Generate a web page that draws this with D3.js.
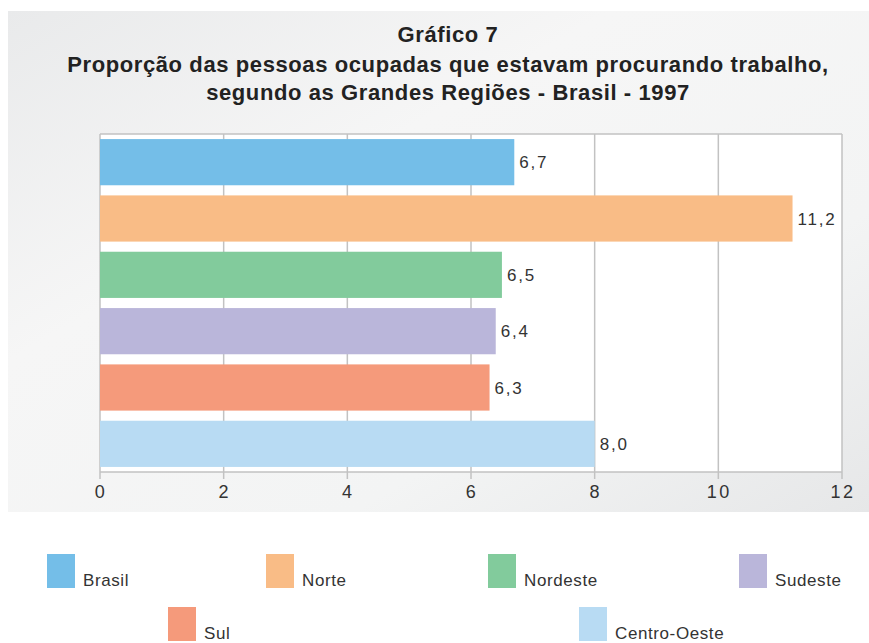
<!DOCTYPE html>
<html>
<head>
<meta charset="utf-8">
<script src="https://cdn.jsdelivr.net/npm/d3@7"></script>
<style>
  body { margin: 0; background: #fff; }
  text { font-family: "Liberation Sans", Arial, sans-serif; }
</style>
</head>
<body>
<div id="chart"></div>
<script>
// data
var regions = ["Brasil", "Norte", "Nordeste", "Sudeste", "Sul", "Centro-Oeste"];
var values = [6.7, 11.2, 6.5, 6.4, 6.3, 8.0];
var colors = ["#74bee8", "#f9bc86", "#82cb9c", "#bab6da", "#f59a7b", "#b8dbf3"];
var xTicks = [0, 2, 4, 6, 8, 10, 12];
var titleLines = [
  "Gráfico 7",
  "Proporção das pessoas ocupadas que estavam procurando trabalho,",
  "segundo as Grandes Regiões - Brasil - 1997"
];

var W = 869, H = 643;
var svg = d3.select("#chart").append("svg").attr("width", W).attr("height", H);

// background panel with soft gradient
var grad = svg.append("defs").append("linearGradient").attr("id", "bg")
  .attr("x1", "0%").attr("y1", "0%").attr("x2", "100%").attr("y2", "100%");
grad.append("stop").attr("offset", "0%").attr("stop-color", "#e9eaeb");
grad.append("stop").attr("offset", "35%").attr("stop-color", "#f6f6f6");
grad.append("stop").attr("offset", "70%").attr("stop-color", "#f3f4f4");
grad.append("stop").attr("offset", "100%").attr("stop-color", "#e6e7e8");
svg.append("rect").attr("x", 8).attr("y", 11).attr("width", W - 8).attr("height", 501)
  .attr("fill", "url(#bg)");

// title
svg.selectAll("text.title").data(titleLines).enter().append("text")
  .attr("class", "title")
  .attr("x", 448)
  .attr("y", (d, i) => [42, 72, 100][i])
  .attr("text-anchor", "middle")
  .attr("font-size", 22)
  .attr("font-weight", "bold")
  .attr("letter-spacing", 0.6)
  .attr("fill", "#222")
  .text(d => d);

// plot area
var pLeft = 100, pRight = 842, pTop = 134, pBottom = 472;
var x = d3.scaleLinear().domain([0, 12]).range([pLeft, pRight]);
var y = d3.scaleBand().domain(regions).range([pTop, pBottom]).paddingInner(0.18).paddingOuter(0.09);

svg.append("rect").attr("x", pLeft).attr("y", pTop).attr("width", pRight - pLeft).attr("height", pBottom - pTop)
  .attr("fill", "#fff");

// gridlines + border
svg.append("g").selectAll("line").data(xTicks).enter().append("line")
  .attr("x1", d => x(d)).attr("x2", d => x(d))
  .attr("y1", pTop).attr("y2", pBottom + 7)
  .attr("stroke", "#c2c2c2").attr("stroke-width", 1.5);
svg.append("line").attr("x1", pLeft).attr("x2", pRight).attr("y1", pTop).attr("y2", pTop)
  .attr("stroke", "#c2c2c2").attr("stroke-width", 1.5);
svg.append("line").attr("x1", pLeft).attr("x2", pRight).attr("y1", pBottom).attr("y2", pBottom)
  .attr("stroke", "#c2c2c2").attr("stroke-width", 1.5);

// bars
svg.append("g").selectAll("rect").data(values).enter().append("rect")
  .attr("x", x(0))
  .attr("y", (d, i) => y(regions[i]))
  .attr("width", d => x(d) - x(0))
  .attr("height", y.bandwidth())
  .attr("fill", (d, i) => colors[i]);

// value labels
svg.append("g").selectAll("text").data(values).enter().append("text")
  .attr("x", d => x(d) + 5)
  .attr("y", (d, i) => y(regions[i]) + y.bandwidth() / 2 + 6)
  .attr("font-size", 17)
  .attr("letter-spacing", 1.8)
  .attr("fill", "#333")
  .text(d => d.toFixed(1).replace(".", ","));

// x axis tick labels
svg.append("g").selectAll("text").data(xTicks).enter().append("text")
  .attr("x", d => x(d) + 1)
  .attr("y", 498)
  .attr("text-anchor", "middle")
  .attr("font-size", 18)
  .attr("letter-spacing", 2.5)
  .attr("fill", "#333")
  .text(d => d);

// legend
var legendPos = [
  [47, 554], [266, 554], [488, 554], [739, 554],
  [168, 607], [579, 607]
];
var lg = svg.append("g").selectAll("g").data(regions).enter().append("g")
  .attr("transform", (d, i) => "translate(" + legendPos[i][0] + "," + legendPos[i][1] + ")");
lg.append("rect").attr("width", 28).attr("height", 34).attr("fill", (d, i) => colors[i]);
lg.append("text").attr("x", 36).attr("y", 32)
  .attr("font-size", 17).attr("letter-spacing", 0.6)
  .attr("fill", "#333").text(d => d);
</script>
</body>
</html>
